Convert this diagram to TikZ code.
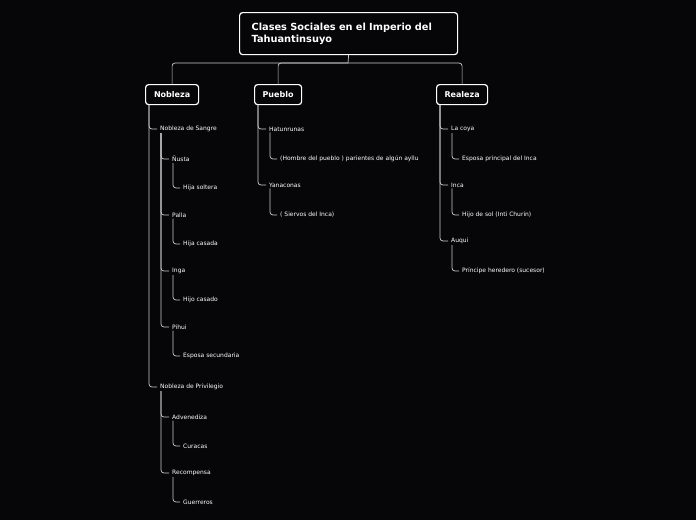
\documentclass[tikz,border=0pt]{standalone}
\usepackage{fontspec}
\setmainfont{DejaVu Sans}
\definecolor{bg}{RGB}{6,6,9}
\begin{document}
\begin{tikzpicture}[x=1pt,y=-1pt,
  box/.style={draw=white,line width=1.2pt,rounded corners=3pt,text=white,font=\bfseries\fontsize{8}{9}\selectfont,inner sep=0pt,minimum height=20pt,anchor=north west},
  leaf/.style={text=white,font=\fontsize{6}{7}\selectfont,inner sep=1pt,anchor=west,yshift=-1pt},
  conn/.style={draw=white!80!black,line width=0.7pt,rounded corners=3pt}]
\fill[bg] (0,0) rectangle (696,520);
\node[box,minimum width=218pt,minimum height=42pt,align=left,font=\bfseries\fontsize{9.8}{12}\selectfont,text width=194pt,inner xsep=12pt] (t) at (239,12) {Clases Sociales en el Imperio del\\Tahuantinsuyo};
\node[box,minimum width=53pt] (nob) at (145,84) {Nobleza};
\node[box,minimum width=47pt] (pue) at (254,84) {Pueblo};
\node[box,minimum width=51pt] (rea) at (436,84) {Realeza};
\coordinate (j) at (348,63);
\draw[conn] (t.south) -- (j);
\draw[conn] (j) -| (nob.north);
\draw[conn] (j) -| (pue.north);
\draw[conn] (j) -| (rea.north);
% Nobleza
\node[leaf] (ns) at (159,128) {Nobleza de Sangre};
\node[leaf] (nu) at (171,158) {Ñusta};
\node[leaf] (hs) at (182,187) {Hija soltera};
\node[leaf] (pa) at (171,214) {Palla};
\node[leaf] (hc) at (182,243) {Hija casada};
\node[leaf] (in) at (171,270) {Inga};
\node[leaf] (ho) at (182,299) {Hijo casado};
\node[leaf] (pi) at (171,326) {Pihui};
\node[leaf] (es) at (182,355) {Esposa secundaria};
\node[leaf] (np) at (159,386) {Nobleza de Privilegio};
\node[leaf] (ad) at (171,416) {Advenediza};
\node[leaf] (cu) at (182,445) {Curacas};
\node[leaf] (re) at (171,472) {Recompensa};
\node[leaf] (gu) at (182,501) {Guerreros};
\foreach \c in {ns,np} \draw[conn] ([xshift=4pt]nob.south west) |- ([xshift=-2pt]\c.west);
\foreach \c in {nu,pa,in,pi} \draw[conn] ([xshift=2pt]ns.south west) |- ([xshift=-2pt]\c.west);
\foreach \c in {ad,re} \draw[conn] ([xshift=2pt]np.south west) |- ([xshift=-2pt]\c.west);
\foreach \p/\c in {nu/hs,pa/hc,in/ho,pi/es,ad/cu,re/gu}
  \draw[conn] ([xshift=2pt]\p.south west) |- ([xshift=-2pt]\c.west);
% Pueblo
\node[leaf] (ha) at (268,128) {Hatunrunas};
\node[leaf] (hp) at (279,158) {(Hombre del pueblo ) parientes de algún ayllu};
\node[leaf] (ya) at (268,184) {Yanaconas};
\node[leaf] (si) at (279,214) {( Siervos del Inca)};
\foreach \c in {ha,ya} \draw[conn] ([xshift=4pt]pue.south west) |- ([xshift=-2pt]\c.west);
\foreach \p/\c in {ha/hp,ya/si}
  \draw[conn] ([xshift=2pt]\p.south west) |- ([xshift=-2pt]\c.west);
% Realeza
\node[leaf] (lc) at (450,128) {La coya};
\node[leaf] (ep) at (461,158) {Esposa principal del Inca};
\node[leaf] (ic) at (450,184) {Inca};
\node[leaf] (hi) at (461,214) {Hijo de sol (Inti Churin)};
\node[leaf] (au) at (450,240) {Auqui};
\node[leaf] (ph) at (461,270) {Príncipe heredero (sucesor)};
\foreach \c in {lc,ic,au} \draw[conn] ([xshift=4pt]rea.south west) |- ([xshift=-2pt]\c.west);
\foreach \p/\c in {lc/ep,ic/hi,au/ph}
  \draw[conn] ([xshift=2pt]\p.south west) |- ([xshift=-2pt]\c.west);
\end{tikzpicture}
\end{document}
